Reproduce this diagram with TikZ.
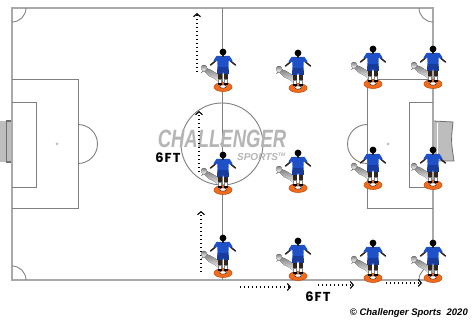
\documentclass[tikz,border=0pt]{standalone}
\usepackage{fontspec}
\setmainfont{Liberation Sans}
\newfontfamily\labelfont{Poppins}[LetterSpace=8]
\usetikzlibrary{arrows.meta}

\definecolor{touch}{HTML}{A9A9A9}
\definecolor{marking}{HTML}{808080}
\definecolor{goalfill}{HTML}{BDBDBD}
\definecolor{goaledge}{HTML}{707070}
\definecolor{shirt}{HTML}{1E50C8}
\definecolor{shorts}{HTML}{173C9E}
\definecolor{skin}{HTML}{33261F}
\definecolor{disc}{HTML}{F26B1D}
\definecolor{discedge}{HTML}{C4500F}
\definecolor{shade}{HTML}{D6D6D6}
\definecolor{logo}{HTML}{B5B5B5}

\tikzset{
  boundary/.style={draw=touch,line width=1.5pt},
  markline/.style={draw=marking,line width=0.9pt},
  runline/.style={draw=black,line width=1.3pt,dash pattern=on 1.3pt off 2.7pt,
    -{Straight Barb[length=3pt,width=7pt,line width=1.1pt]}},
  distlabel/.style={font=\labelfont\bfseries\fontsize{13}{13}\selectfont,inner sep=0pt},
  player/.pic={
    % shadow cast towards the upper left
    \fill[shade] (-2,-3) -- (-8,-8) -- (-14,-11) -- (-19,-16) -- (-22,-14)
      -- (-17,-19) -- (-12,-17) -- (-7,-14) -- (-3,-9) -- cycle;
    \fill[shade] (-19,-19) circle[radius=3pt];
    % marker disc
    \fill[disc] (0,0) ellipse[x radius=9pt,y radius=4.5pt];
    \draw[discedge,line width=0.6pt] (0,0) ellipse[x radius=9pt,y radius=4.5pt];
    \filldraw[fill=white,draw=skin,line width=0.5pt] (0,-0.5) ellipse[x radius=3.3pt,y radius=1.7pt];
    % legs, socks and boots
    \fill[skin] (-4.6,-14) rectangle (-1.4,-7);
    \fill[skin] (1.4,-14) rectangle (4.6,-7);
    \filldraw[fill=white,draw=gray,line width=0.3pt] (-4.6,-8) rectangle (-1.4,-3.5);
    \filldraw[fill=white,draw=gray,line width=0.3pt] (1.4,-8) rectangle (4.6,-3.5);
    \fill[black] (-5.2,-3.8) rectangle (-1.2,-1.6);
    \fill[black] (1.2,-3.8) rectangle (5.2,-1.6);
    % shorts
    \fill[shorts] (-5.6,-20.5) -- (5.6,-20.5) -- (6,-13) -- (0.8,-13) -- (0,-15.5)
      -- (-0.8,-13) -- (-6,-13) -- cycle;
    % arms
    \draw[skin,line width=1.5pt,line cap=round] (-7.5,-26) -- (-12.5,-22);
    \draw[skin,line width=1.5pt,line cap=round] (7.5,-26) -- (12.5,-22);
    % shirt with short sleeves
    \fill[shirt] (-6.5,-31) -- (6.5,-31) -- (9.5,-26.5) -- (7.2,-25) -- (5.8,-27)
      -- (5.4,-20) -- (-5.4,-20) -- (-5.8,-27) -- (-7.2,-25) -- (-9.5,-26.5) -- cycle;
    % head
    \fill[skin] (-1.3,-32) rectangle (1.3,-30);
    \fill[black] (0,-35) circle[radius=3.4pt];
  }
}

\begin{document}
\begin{tikzpicture}[x=1pt,y=-1pt]
\useasboundingbox (0,0) rectangle (472,323);
\fill[white] (0,0) rectangle (472,323);

% goals
\filldraw[fill=goalfill,draw=none] (0,121) rectangle (12,162);
\draw[goaledge,line width=1.4pt] (12,121) -- (6.5,121) -- (6.5,162) -- (12,162);
\filldraw[fill=goalfill,draw=goaledge,line width=0.8pt]
  (433,121) -- (453,122) .. controls (451,141) .. (454,161) -- (433,161) -- cycle;
\draw[white,line width=1pt] (437,123) -- (437,159);

% pitch outline and halfway line
\draw[boundary] (12,8) rectangle (433,280);
\draw[markline] (222,8) -- (222,280);
\draw[markline] (222,144) circle[radius=41pt];
\fill[marking] (222,144) circle[radius=1.8pt];

% corner arcs
\draw[markline] (26,8) arc[start angle=0,end angle=-90,radius=14pt];
\draw[markline] (419,8) arc[start angle=180,end angle=270,radius=14pt];
\draw[markline] (12,266) arc[start angle=90,end angle=0,radius=14pt];
\draw[markline] (419,280) arc[start angle=180,end angle=90,radius=14pt];

% left penalty area
\draw[markline] (12,79) -- (78,79) -- (78,208) -- (12,208);
\draw[markline] (12,102) -- (36,102) -- (36,187) -- (12,187);
\fill[goalfill] (57,144) circle[radius=1.5pt];
\draw[markline] (78,163.5) arc[start angle=-90,end angle=90,radius=19.5pt];

% right penalty area
\draw[markline] (433,79) -- (367,79) -- (367,208) -- (433,208);
\draw[markline] (433,102) -- (409,102) -- (409,187) -- (433,187);
\fill[goalfill] (388,144) circle[radius=1.5pt];
\draw[markline] (367,124.5) arc[start angle=90,end angle=270,radius=19.5pt];

% brand mark in the centre circle
\node[logo,font=\fontsize{25}{25}\selectfont\bfseries\itshape,inner sep=0pt,
  xscale=0.74,yscale=1.0] (brand) at (222,139) {CHALLENGER};
\node[logo,font=\fontsize{10}{10}\selectfont\bfseries\itshape,inner sep=0pt,
  anchor=east] (brandsub) at (286,157) {SPORTS\textsuperscript{\tiny TM}};

% runs (start and end points)
\coordinate (r1s) at (197,72);  \coordinate (r1e) at (197,13);
\coordinate (r2s) at (199,172); \coordinate (r2e) at (199,111);
\coordinate (r3s) at (201,272); \coordinate (r3e) at (201,211);
\coordinate (h1s) at (240,287); \coordinate (h1e) at (291,287);
\coordinate (h2s) at (318,285); \coordinate (h2e) at (354,285);
\coordinate (h3s) at (386,283); \coordinate (h3e) at (422,283);
\draw[runline] (r1s) -- (r1e);
\draw[runline] (r2s) -- (r2e);
\draw[runline] (r3s) -- (r3e);
\draw[runline] (h1s) -- (h1e);
\draw[runline] (h2s) -- (h2e);
\draw[runline] (h3s) -- (h3e);

% players on their markers
\pic at (223,87) {player};
\pic at (298,88) {player};
\pic at (373,84) {player};
\pic at (433,84) {player};
\pic at (223,190) {player};
\pic at (298,188) {player};
\pic at (373,185) {player};
\pic at (433,185) {player};
\pic at (223,273) {player};
\pic at (298,276) {player};
\pic at (373,278) {player};
\pic at (433,278) {player};

% distances
\node[distlabel] (d1) at (168,158) {6FT};
\node[distlabel] (d2) at (318,297) {6FT};

% credit line
\node[font=\fontsize{9.5}{9.5}\selectfont\bfseries\itshape,inner sep=0pt,anchor=east]
  (credit) at (468,313) {\char"00A9{} Challenger Sports\ \ 2020};
\end{tikzpicture}
\end{document}
